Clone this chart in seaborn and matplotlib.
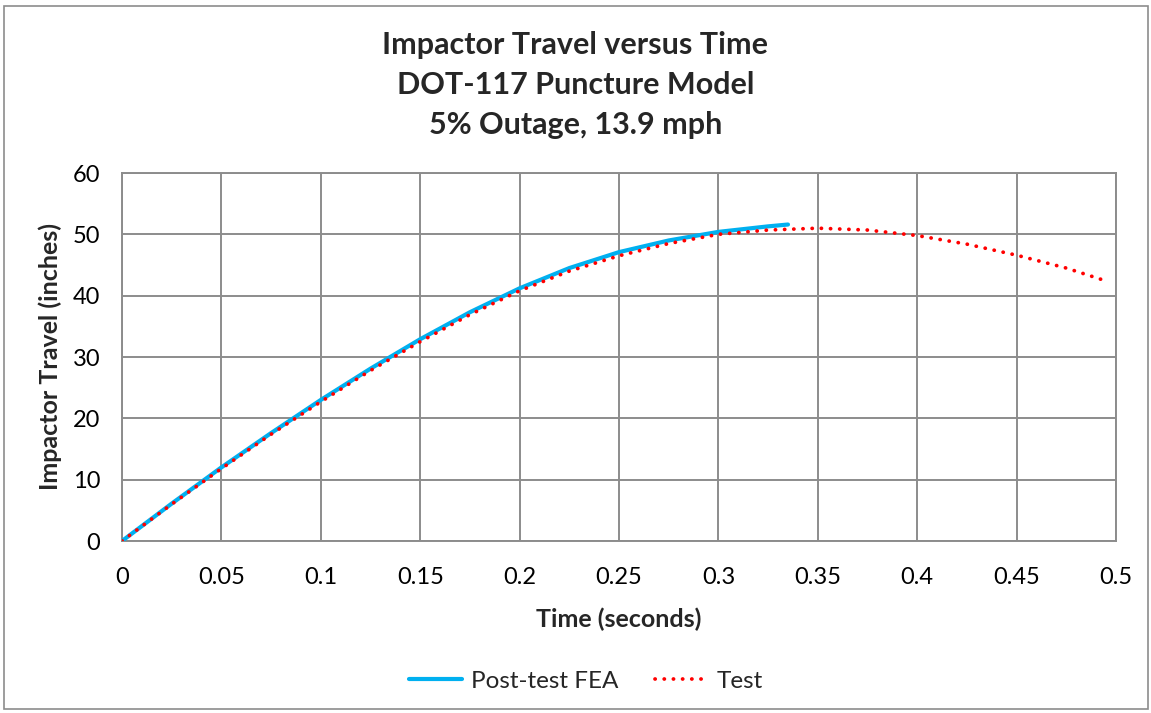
import matplotlib
matplotlib.use("Agg")
import matplotlib.pyplot as plt
from matplotlib.patches import Rectangle
import seaborn as sns
import pandas as pd

# Post-test FEA impactor travel (inches) vs time (s)
fea_time = [0, 0.025, 0.05, 0.075, 0.1, 0.125, 0.15, 0.175, 0.2, 0.225,
            0.25, 0.275, 0.3, 0.325, 0.335]
fea_travel = [0, 6.1, 12.0, 17.6, 23.0, 28.1, 32.9, 37.3, 41.2, 44.5,
              47.1, 49.0, 50.4, 51.3, 51.6]

# Measured test impactor travel
test_time = [0, 0.025, 0.05, 0.075, 0.1, 0.125, 0.15, 0.175, 0.2, 0.225,
             0.25, 0.275, 0.3, 0.325, 0.35, 0.375, 0.4, 0.425, 0.45, 0.475, 0.495]
test_travel = [0, 6.0, 11.8, 17.4, 22.7, 27.8, 32.5, 36.9, 40.8, 44.0,
               46.5, 48.5, 50.0, 50.7, 51.0, 50.7, 49.8, 48.4, 46.6, 44.5, 42.4]

x_ticks = [0, 0.05, 0.1, 0.15, 0.2, 0.25, 0.3, 0.35, 0.4, 0.45, 0.5]
x_tick_labels = ["0", "0.05", "0.1", "0.15", "0.2", "0.25", "0.3", "0.35", "0.4", "0.45", "0.5"]
y_ticks = [0, 10, 20, 30, 40, 50, 60]

title_lines = ["Impactor Travel versus Time", "DOT-117 Puncture Model", "5% Outage, 13.9 mph"]

sns.set_style("white")
plt.rcParams["font.family"] = ["Lato", "DejaVu Sans"]

W, H = 1151, 713
fig = plt.figure(figsize=(W / 100, H / 100), dpi=100)
ax = fig.add_axes([122 / W, 1 - 541 / H, (1116 - 122) / W, (541 - 173) / H])

fea_df = pd.DataFrame({"t": fea_time, "d": fea_travel})
test_df = pd.DataFrame({"t": test_time, "d": test_travel})

sns.lineplot(data=fea_df, x="t", y="d", ax=ax, color="#00B0F0", linewidth=3.0,
             label="Post-test FEA", solid_capstyle="round", zorder=3)
sns.lineplot(data=test_df, x="t", y="d", ax=ax, color="#FF0000", linewidth=2.7,
             label="Test", linestyle=(0, (0.05, 2.4)), dash_capstyle="round", zorder=4)

ax.set_xlim(0, 0.5)
ax.set_ylim(0, 60)
ax.set_xticks(x_ticks)
ax.set_xticklabels(x_tick_labels)
ax.set_yticks(y_ticks)

grid_c = "#8C8C8C"
ax.grid(True, color=grid_c, linewidth=1.4)
for s in ax.spines.values():
    s.set_color(grid_c)
    s.set_linewidth(1.4)
ax.tick_params(axis="both", which="both", direction="out", length=5.5, width=1.4,
               color=grid_c, labelsize=17, labelcolor="black")
ax.tick_params(axis="x", pad=13)
ax.tick_params(axis="y", pad=10)

ax.set_xlabel("Time (seconds)", fontsize=18, fontweight="bold", labelpad=14)
ax.set_ylabel("Impactor Travel (inches)", fontsize=18, fontweight="bold", labelpad=8)

for i, line in enumerate(title_lines):
    fig.text(0.5, 1 - (45 + 40 * i) / H, line, ha="center", va="center",
             fontsize=22, fontweight="bold")

ax.get_legend().remove()
handles, labels = ax.get_legend_handles_labels()
fig.legend(handles, labels, loc="center", bbox_to_anchor=(586 / W, 1 - 681 / H), ncol=2,
           frameon=False, fontsize=17.5, handlelength=2.2, columnspacing=1.5,
           handletextpad=0.35)

fig.patches.append(Rectangle((0.0035, 0.006), 0.9935, 0.985, transform=fig.transFigure,
                             fill=False, edgecolor="#8C8C8C", linewidth=1.2))

fig.savefig("out.png", dpi=100, facecolor="white")
